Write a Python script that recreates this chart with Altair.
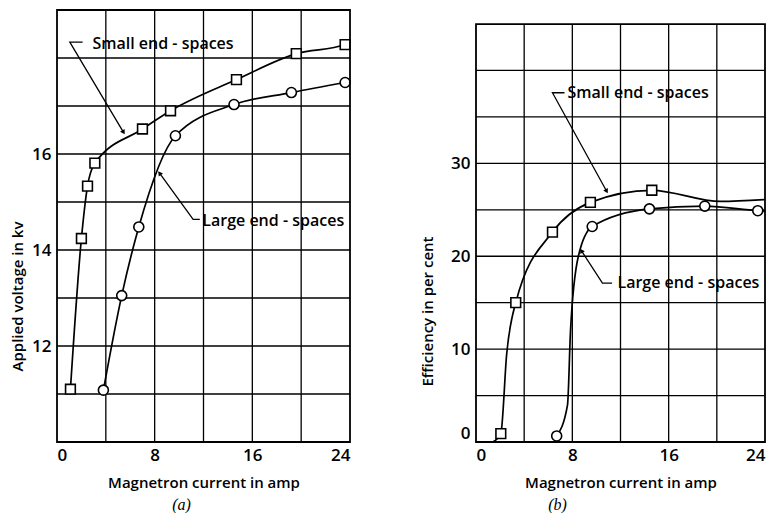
import math
import altair as alt
import pandas as pd

# ---------------- data ----------------
# Panel (a): applied voltage (kV) vs magnetron current (amp)
a_small_x = [1.1, 2.0, 2.5, 3.1, 7.0, 9.3, 14.7, 19.6, 23.6]
a_small_y = [11.1, 14.24, 15.33, 15.81, 16.52, 16.9, 17.55, 18.09, 18.28]
a_small_line_x = [1.1, 2.0, 2.5, 3.1, 7.0, 9.3, 14.7, 19.6, 23.6, 24.0]
a_small_line_y = [11.1, 14.24, 15.33, 15.81, 16.52, 16.9, 17.55, 18.09, 18.28, 18.33]
a_large_x = [3.8, 5.3, 6.7, 9.7, 14.5, 19.2, 23.6]
a_large_y = [11.08, 13.05, 14.48, 16.38, 17.03, 17.28, 17.49]

# Panel (b): efficiency (per cent) vs magnetron current (amp)
b_small_x = [2.06, 3.3, 6.35, 9.5, 14.6]
b_small_y = [0.9, 15.0, 22.6, 25.8, 27.1]
b_small_line_x = [1.4, 2.06, 2.55, 3.3, 6.35, 9.5, 14.6, 20.3, 24.0]
b_small_line_y = [0.0, 0.9, 9.5, 15.0, 22.6, 25.8, 27.1, 25.9, 26.1]
b_large_x = [6.7, 9.65, 14.4, 19.0, 23.4]
b_large_y = [0.65, 23.2, 25.1, 25.4, 24.9]
b_large_line_x = [6.7, 7.6, 7.85, 8.5, 9.65, 14.4, 19.0, 23.4, 24.0]
b_large_line_y = [0.65, 4.0, 12.0, 20.0, 23.2, 25.1, 25.4, 24.9, 24.85]

# axes
x_ticks = [0, 8, 16, 24]
x_grid = [4, 8, 12, 16, 20]
a_y_ticks = [12, 14, 16]
a_y_grid = [11, 12, 13, 14, 15, 16, 17, 18]
b_y_ticks = [0, 10, 20, 30]
b_y_grid = [5, 10, 15, 20, 25, 30, 35, 40]

# annotations: label text, text anchor, leader (text end, corner, arrow tip)
ann_text = ["Small end - spaces", "Large end - spaces"]
a_ann_x = [2.9, 11.9]
a_ann_y = [18.3, 14.6]
a_lead_hx = [2.1, 11.7]
a_lead_cx = [1.05, 11.15]
a_lead_cy = [18.33, 14.64]
a_tip_x = [5.45, 8.4]
a_tip_y = [16.45, 15.6]

b_ann_x = [7.6, 11.75]
b_ann_y = [37.6, 17.1]
b_lead_hx = [7.35, 11.3]
b_lead_cx = [6.35, 10.5]
b_lead_cy = [37.6, 17.1]
b_tip_x = [10.85, 8.75]
b_tip_y = [27.0, 20.6]

FONT = "Open Sans"
W_A, W_B, H = 293, 289, 432


def panel(xdom, ydom, ytop, small_x, small_y, sline_x, sline_y,
          large_x, large_y, lline_x, lline_y,
          y_ticks, y_grid, ann_x, ann_y, lead_hx, lead_cx, lead_cy,
          tip_x, tip_y, width, ytitle, ytitle_x, ytitle_y, caption, cap_dx):
    xs = alt.Scale(domain=xdom, nice=False, zero=False)
    ys = alt.Scale(domain=ydom, nice=False, zero=False)
    xaxis = alt.Axis(values=x_ticks, grid=False, domain=False, ticks=False,
                     labelPadding=5, title="Magnetron current in amp",
                     titleX=width / 2, titleY=40, titleBaseline="middle",
                     titleAlign="center")
    yaxis = alt.Axis(values=y_ticks, grid=False, domain=False, ticks=False,
                     labelPadding=6, labelFlush=True, title=ytitle, titleAngle=270,
                     titleX=ytitle_x, titleY=ytitle_y, titleBaseline="middle",
                     titleAlign="center")

    def X(f):
        return alt.X(f, type="quantitative", scale=xs, axis=xaxis)

    def Y(f):
        return alt.Y(f, type="quantitative", scale=ys, axis=yaxis)

    sx = width / (xdom[1] - xdom[0])
    sy = H / (ydom[1] - ydom[0])

    hgrid = alt.Chart(pd.DataFrame({"y": y_grid, "x0": xdom[0], "x1": xdom[1]})).mark_rule(
        color="black", strokeWidth=1.3).encode(y=Y("y"), x=X("x0"), x2="x1")
    vgrid = alt.Chart(pd.DataFrame({"x": x_grid, "y0": ydom[0], "y1": ytop})).mark_rule(
        color="black", strokeWidth=1.3).encode(x=X("x"), y=Y("y0"), y2="y1")
    frame = alt.Chart(pd.DataFrame({"x0": [xdom[0]], "x1": [xdom[1]], "y0": [ydom[0]], "y1": [ytop]})).mark_rect(
        filled=False, stroke="black", strokeWidth=1.8).encode(x=X("x0"), x2="x1", y=Y("y0"), y2="y1")

    sline = alt.Chart(pd.DataFrame({"x": sline_x, "y": sline_y})).mark_line(
        interpolate="monotone", color="black", strokeWidth=1.7).encode(x=X("x"), y=Y("y"))
    lline = alt.Chart(pd.DataFrame({"x": lline_x, "y": lline_y})).mark_line(
        interpolate="monotone", color="black", strokeWidth=1.7).encode(x=X("x"), y=Y("y"))
    spts = alt.Chart(pd.DataFrame({"x": small_x, "y": small_y})).mark_point(
        shape="square", filled=True, fill="white", stroke="black", strokeWidth=1.6,
        size=95, opacity=1).encode(x=X("x"), y=Y("y"))
    lpts = alt.Chart(pd.DataFrame({"x": large_x, "y": large_y})).mark_point(
        shape="circle", filled=True, fill="white", stroke="black", strokeWidth=1.6,
        size=100, opacity=1).encode(x=X("x"), y=Y("y"))

    rows = []
    heads = []
    for i in range(len(ann_text)):
        rows.append({"id": i, "o": 0, "x": lead_hx[i], "y": lead_cy[i]})
        rows.append({"id": i, "o": 1, "x": lead_cx[i], "y": lead_cy[i]})
        rows.append({"id": i, "o": 2, "x": tip_x[i], "y": tip_y[i]})
        dx = (tip_x[i] - lead_cx[i]) * sx
        dy = -(tip_y[i] - lead_cy[i]) * sy
        ang = math.degrees(math.atan2(dx, -dy)) % 360
        heads.append({"x": tip_x[i], "y": tip_y[i], "a": ang})
    leaders = alt.Chart(pd.DataFrame(rows)).mark_line(color="black", strokeWidth=1.3).encode(
        x=X("x"), y=Y("y"), detail="id:N", order="o:Q")
    arrows = alt.Chart(pd.DataFrame(heads)).mark_point(
        shape="triangle-up", filled=True, color="black", size=28, opacity=1).encode(
        x=X("x"), y=Y("y"), angle=alt.Angle("a:Q", scale=None))
    texts = alt.Chart(pd.DataFrame({"x": ann_x, "y": ann_y, "t": ann_text})).mark_text(
        align="left", baseline="middle", font=FONT, fontSize=16, fontWeight=600,
        color="black").encode(x=X("x"), y=Y("y"), text="t:N")

    return alt.layer(hgrid, vgrid, sline, lline, leaders, arrows, spts, lpts, texts, frame).properties(
        width=width, height=H,
        title=alt.TitleParams(caption, orient="bottom", anchor="middle", frame="group",
                              font="Liberation Serif", fontStyle="italic", fontWeight="normal",
                              fontSize=16, offset=7, dx=cap_dx, color="black"))


left = panel([0, 24], [10, 19], 19, a_small_x, a_small_y, a_small_line_x, a_small_line_y,
             a_large_x, a_large_y, a_large_x, a_large_y, a_y_ticks, a_y_grid,
             a_ann_x, a_ann_y, a_lead_hx, a_lead_cx, a_lead_cy, a_tip_x, a_tip_y,
             W_A, "Applied voltage in kv", -40, 286, "(a)", -22)
right = panel([0, 24], [0, 46.51], 45, b_small_x, b_small_y, b_small_line_x, b_small_line_y,
              b_large_x, b_large_y, b_large_line_x, b_large_line_y, b_y_ticks, b_y_grid,
              b_ann_x, b_ann_y, b_lead_hx, b_lead_cx, b_lead_cy, b_tip_x, b_tip_y,
              W_B, "Efficiency in per cent", -49, 301, "(b)", -63)

chart = alt.hconcat(left, right, spacing=66).properties(
    padding={"left": 2, "top": 1, "right": 0, "bottom": 0},
    background="white"
).configure_view(stroke=None).configure_axis(
    labelFont=FONT, labelFontSize=17, labelFontWeight=600, labelColor="black",
    titleFont=FONT, titleFontSize=15, titleFontWeight=600, titleColor="black"
)

chart.save("out.html", embed_options={"renderer": "svg", "actions": False})
